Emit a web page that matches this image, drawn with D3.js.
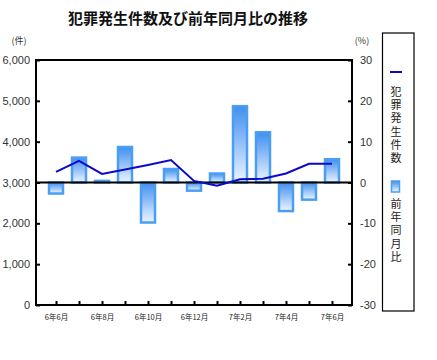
<!DOCTYPE html>
<html>
<head>
<meta charset="utf-8">
<script src="https://cdn.jsdelivr.net/npm/d3@7"></script>
<style>
body{margin:0;background:#fff;}
svg{display:block;font-family:"Liberation Sans",Arial,"Noto Sans CJK JP",sans-serif;}
</style>
</head>
<body>
<svg id="c" width="437" height="360"></svg>
<script>
const categories = ["6年6月","6年7月","6年8月","6年9月","6年10月","6年11月","6年12月","7年1月","7年2月","7年3月","7年4月","7年5月","7年6月"];
const tickLabels = ["6年6月","6年8月","6年10月","6年12月","7年2月","7年4月","7年6月"];
const crimeCounts = [3260, 3530, 3210, 3320, 3430, 3550, 3040, 2920, 3080, 3090, 3220, 3460, 3460];
const yoyPercent = [-2.7, 6.1, 0.4, 8.7, -9.8, 3.3, -2.0, 2.2, 18.7, 12.3, -7.0, -4.2, 5.7];
const leftTicks = [0,1000,2000,3000,4000,5000,6000];
const rightTicks = [-30,-20,-10,0,10,20,30];
const legendLabels = ["犯罪発生件数","前年同月比"];

const svg = d3.select("#c");
const L = 36, R = 352, T = 60, B = 305;

const x = d3.scalePoint().domain(categories).range([L, R]).padding(0.87);
const yL = d3.scaleLinear().domain([0, 6000]).range([B, T]);
const yR = d3.scaleLinear().domain([-30, 30]).range([B, T]);

const defs = svg.append("defs");
const g = defs.append("linearGradient").attr("id","barGrad").attr("x1",0).attr("y1",0).attr("x2",0).attr("y2",1);
g.append("stop").attr("offset","0%").attr("stop-color","#3f8ff0");
g.append("stop").attr("offset","100%").attr("stop-color","#eef5ff");

svg.append("text").attr("x", 188).attr("y", 24).attr("text-anchor","middle")
  .attr("font-family","'Noto Sans CJK JP',sans-serif").attr("font-weight","bold").attr("font-size",15)
  .attr("fill","#111").text("犯罪発生件数及び前年同月比の推移");

svg.append("text").attr("x", 19).attr("y", 44).attr("text-anchor","middle")
  .attr("font-family","'Noto Sans CJK JP',sans-serif").attr("font-size",9).attr("fill","#333").text("(件)");
svg.append("text").attr("x", 362).attr("y", 44).attr("text-anchor","middle")
  .attr("font-family","'Noto Sans CJK JP',sans-serif").attr("font-size",9).attr("fill","#333").text("(%)");

const bw = 14;
svg.append("g").selectAll("rect").data(yoyPercent).join("rect")
  .attr("x", (d,i) => x(categories[i]) - bw/2)
  .attr("y", d => yR(Math.max(0,d)))
  .attr("width", bw)
  .attr("height", d => Math.max(1, Math.abs(yR(d) - yR(0))))
  .attr("fill","url(#barGrad)")
  .attr("stroke","#4a9ff2").attr("stroke-width",2.5);

svg.append("line").attr("x1",L).attr("x2",R).attr("y1",yR(0)).attr("y2",yR(0))
  .attr("stroke","#000").attr("stroke-width",2);

const line = d3.line().x((d,i) => x(categories[i])).y(d => yL(d));
svg.append("path").datum(crimeCounts).attr("d", line)
  .attr("fill","none").attr("stroke","#0a0ac8").attr("stroke-width",2);

svg.append("rect").attr("x",L).attr("y",T).attr("width",R-L).attr("height",B-T)
  .attr("fill","none").attr("stroke","#000").attr("stroke-width",2);

const axL = d3.axisLeft(yL).tickValues(leftTicks).tickSize(-4).tickPadding(6).tickFormat(d3.format(","));
const gl = svg.append("g").attr("transform",`translate(${L},0)`).call(axL);
const axR = d3.axisRight(yR).tickValues(rightTicks).tickSize(-4).tickPadding(8).tickFormat(d => d);
const gr = svg.append("g").attr("transform",`translate(${R},0)`).call(axR);
const axB = d3.axisBottom(x).tickSize(-4).tickPadding(10).tickFormat(d => tickLabels.includes(d) ? d : "");
const gb = svg.append("g").attr("transform",`translate(0,${B})`).call(axB);
[gl,gr,gb].forEach(a => {
  a.select(".domain").remove();
  a.selectAll(".tick line").attr("stroke","#000").attr("stroke-width",2);
});
gl.selectAll("text").attr("font-size",11).attr("fill","#333").attr("font-family","'Liberation Sans',Arial,sans-serif");
gr.selectAll("text").attr("font-size",11).attr("fill","#333").attr("font-family","'Liberation Sans',Arial,sans-serif");
gb.selectAll("text").attr("font-size",7.5).attr("fill","#222").attr("font-family","'Noto Sans CJK JP',sans-serif");

const lg = svg.append("g");
lg.append("rect").attr("x",382.5).attr("y",33).attr("width",31.5).attr("height",278)
  .attr("fill","#fff").attr("stroke","#000").attr("stroke-width",1.2);
lg.append("line").attr("x1",390).attr("x2",402).attr("y1",72).attr("y2",72)
  .attr("stroke","#0a0ac8").attr("stroke-width",2);
lg.append("text").attr("x",396).attr("y",86)
  .attr("style","writing-mode:vertical-rl;letter-spacing:2.3px")
  .attr("font-family","'Noto Sans CJK JP',sans-serif").attr("font-size",11).attr("fill","#222")
  .text(legendLabels[0]);
lg.append("rect").attr("x",391.5).attr("y",181).attr("width",8).attr("height",11)
  .attr("fill","url(#barGrad)").attr("stroke","#4a9ff2").attr("stroke-width",1.5);
lg.append("text").attr("x",396).attr("y",198)
  .attr("style","writing-mode:vertical-rl;letter-spacing:2.3px")
  .attr("font-family","'Noto Sans CJK JP',sans-serif").attr("font-size",11).attr("fill","#222")
  .text(legendLabels[1]);
</script>
</body>
</html>
